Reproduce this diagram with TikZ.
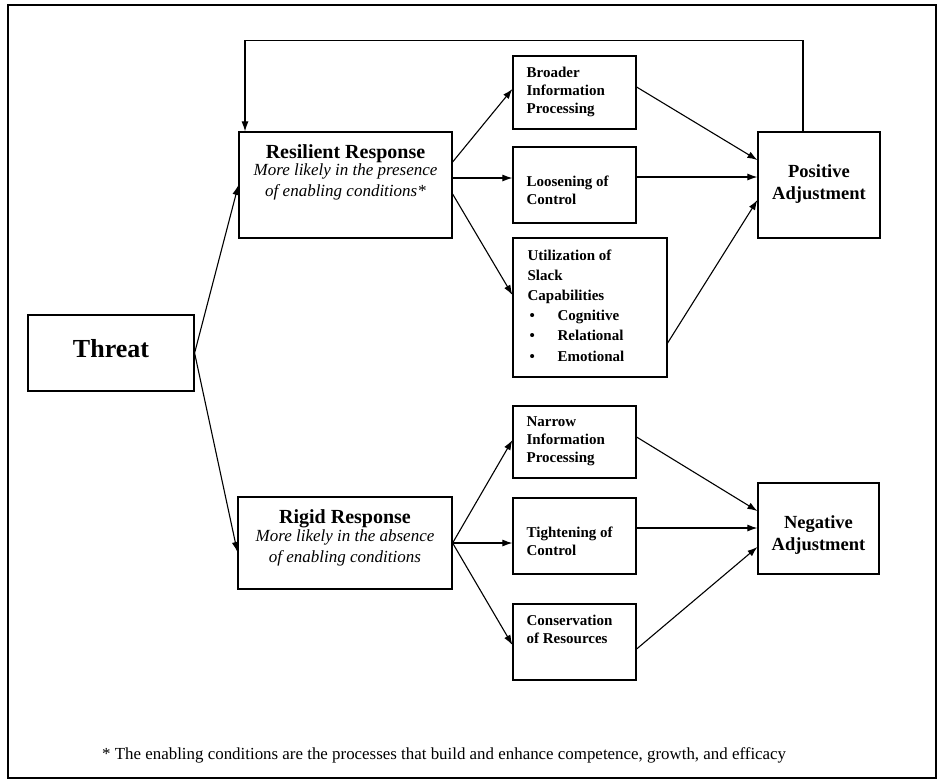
\documentclass[tikz,border=0pt]{standalone}
\usepackage{fontspec}
\setmainfont{Liberation Serif}
\usetikzlibrary{arrows.meta,calc}
\begin{document}
\begin{tikzpicture}[x=1pt,y=-1pt,
  box/.style={draw,line width=1.2pt,inner sep=0pt},
  arr/.style={line width=1.1pt,-{Latex[length=10pt,width=7pt]}},
  smalltxt/.style={inner sep=0pt,anchor=north west,align=left,font=\bfseries\fontsize{15}{18}\selectfont},
  titletxt/.style={inner sep=0pt,anchor=base,font=\bfseries\fontsize{20}{22}\selectfont},
  subtxt/.style={inner sep=0pt,anchor=north,align=center,font=\itshape\fontsize{17}{21}\selectfont},
  adjtxt/.style={inner sep=0pt,anchor=north,align=center,font=\bfseries\fontsize{18.5}{22}\selectfont}]
\useasboundingbox (0,0) rectangle (941,782);
\draw[line width=1.2pt] (8,5) rectangle (936,778);

% boxes
\node[box,minimum width=166pt,minimum height=76pt] (threat) at (111,353) {};
\node[box,minimum width=213pt,minimum height=106pt] (res) at (345.5,185) {};
\node[box,minimum width=214pt,minimum height=92pt] (rig) at (345,543) {};
\node[box,minimum width=123pt,minimum height=73pt] (broad) at (574.5,92.5) {};
\node[box,minimum width=123pt,minimum height=76pt] (loose) at (574.5,185) {};
\node[box,minimum width=154pt,minimum height=139pt] (util) at (590,307.5) {};
\node[box,minimum width=122pt,minimum height=106pt] (pos) at (819,185) {};
\node[box,minimum width=123pt,minimum height=72pt] (narrow) at (574.5,442) {};
\node[box,minimum width=123pt,minimum height=76pt] (tight) at (574.5,536) {};
\node[box,minimum width=123pt,minimum height=76pt] (cons) at (574.5,642) {};
\node[box,minimum width=121pt,minimum height=91pt] (neg) at (818.5,528.5) {};

% texts
\node[inner sep=0pt,anchor=base,font=\bfseries\fontsize{26}{30}\selectfont] (threatT) at ([yshift=-4pt]threat.center) {Threat};
\node[titletxt] (resT) at ([yshift=-27pt]res.north) {Resilient Response};
\node[subtxt] (resS) at ([yshift=-32.5pt]res.north) {More likely in the presence\\of enabling conditions*};
\node[titletxt] (rigT) at ([yshift=-27pt]rig.north) {Rigid Response};
\node[subtxt] (rigS) at ([yshift=-33.5pt]rig.north) {More likely in the absence\\of enabling conditions};
\node[smalltxt] (broadT) at ([xshift=14pt,yshift=-11pt]broad.north west) {Broader\\Information\\Processing};
\node[smalltxt] (looseT) at ([xshift=14pt,yshift=-29pt]loose.north west) {Loosening of\\Control};
\node[smalltxt,font=\bfseries\fontsize{15}{20.2}\selectfont] (utilT) at ([xshift=15pt,yshift=-12pt]util.north west) {Utilization of\\Slack\\Capabilities\\\hspace*{2pt}\makebox[28pt][l]{\textbullet}Cognitive\\\hspace*{2pt}\makebox[28pt][l]{\textbullet}Relational\\\hspace*{2pt}\makebox[28pt][l]{\textbullet}Emotional};
\node[smalltxt] (narrowT) at ([xshift=14pt,yshift=-11pt]narrow.north west) {Narrow\\Information\\Processing};
\node[smalltxt] (tightT) at ([xshift=14pt,yshift=-29pt]tight.north west) {Tightening of\\Control};
\node[smalltxt] (consT) at ([xshift=14pt,yshift=-11pt]cons.north west) {Conservation\\of Resources};
\node[adjtxt] (posT) at ([yshift=-33.4pt]pos.north) {Positive\\Adjustment};
\node[adjtxt] (negT) at ([yshift=-33.4pt]neg.north) {Negative\\Adjustment};
\node[inner sep=0pt,anchor=base west,font=\fontsize{16.9}{20}\selectfont] (note) at (102,759) {* The enabling conditions are the processes that build and enhance competence, growth, and efficacy};

% connectors
\draw[arr] (threat.east) -- (res.west);
\draw[arr] (threat.east) -- ([yshift=-9pt]rig.west);
\draw[arr] ([yshift=23pt]res.east) -- ([yshift=3.5pt]broad.west);
\draw[arr] ([yshift=7pt]res.east) -- ([yshift=7pt]loose.west);
\draw[arr] ([yshift=-9pt]res.east) -- ([yshift=12.5pt]util.west);
\draw[arr] ([yshift=5.5pt]broad.east) -- ([yshift=25pt]pos.west);
\draw[arr] ([yshift=8pt]loose.east) -- ([yshift=8pt]pos.west);
\draw[arr] ([yshift=-35.5pt]util.east) -- ([yshift=-15pt]pos.west);
\draw[arr] ([xshift=-16pt]pos.north) -- ++(0,-91) -| ([xshift=-100.5pt]res.north);
\draw[arr] (rig.east) -- ([yshift=2pt]narrow.west);
\draw[arr] (rig.east) -- ([yshift=-7pt]tight.west);
\draw[arr] (rig.east) -- ([yshift=-3pt]cons.west);
\draw[arr] ([yshift=5pt]narrow.east) -- ([yshift=17.5pt]neg.west);
\draw[arr] ([yshift=8pt]tight.east) -- ([yshift=0.5pt]neg.west);
\draw[arr] ([yshift=-7pt]cons.east) -- ([yshift=-18.5pt]neg.west);
\end{tikzpicture}
\end{document}
